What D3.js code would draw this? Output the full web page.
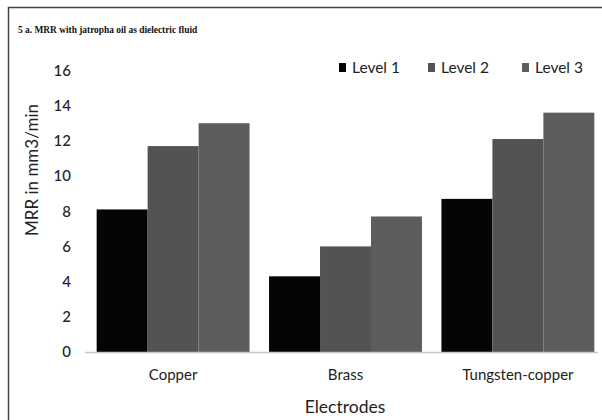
<!DOCTYPE html>
<html><head><meta charset="utf-8">
<script src="https://cdn.jsdelivr.net/npm/d3@7"></script>
<style>body{margin:0;background:#fff}svg{display:block}</style>
</head><body>
<script>
const categories = ["Copper", "Brass", "Tungsten-copper"];
const seriesNames = ["Level 1", "Level 2", "Level 3"];
const level1 = [8.1, 4.3, 8.7];
const level2 = [11.7, 6.0, 12.1];
const level3 = [13.0, 7.7, 13.6];
const yTicks = [0, 2, 4, 6, 8, 10, 12, 14, 16];
const colors = ["#050505", "#535353", "#5d5d5d"];

const W = 602, H = 420;
const svg = d3.select("body").append("svg").attr("width", W).attr("height", H);
const font = "Lato, 'Open Sans', sans-serif";

// frame
svg.append("path").attr("d", "M8.5,420 V7.5 H602").attr("fill", "none").attr("stroke", "#444").attr("stroke-width", 1.5);

svg.append("text").attr("x", 18).attr("y", 33).attr("font-family", "'Liberation Serif', serif")
  .attr("font-weight", "bold").attr("font-size", 9.4).attr("fill", "#111")
  .text("5 a. MRR with jatropha oil as dielectric fluid");

const y = d3.scaleLinear().domain([0, 16]).range([352, 70.4]);
const x0 = d3.scaleBand().domain(categories).range([87, 604]).paddingInner(0.113).paddingOuter(0.056);
const x1 = d3.scaleBand().domain(seriesNames).range([0, x0.bandwidth()]);

const data = categories.map((c, i) => ({cat: c, vals: [level1[i], level2[i], level3[i]]}));

const g = svg.append("g");
data.forEach(d => {
  d.vals.forEach((v, j) => {
    g.append("rect").attr("x", x0(d.cat) + x1(seriesNames[j])).attr("y", y(v))
      .attr("width", x1.bandwidth()).attr("height", y(0) - y(v)).attr("fill", colors[j]);
  });
});

// baseline
svg.append("line").attr("x1", 85).attr("x2", 598).attr("y1", y(0) + 0.5).attr("y2", y(0) + 0.5)
  .attr("stroke", "#c8c8c8").attr("stroke-width", 1.5);

// y axis
const yAxis = svg.append("g").attr("transform", "translate(71,0)")
  .call(d3.axisLeft(y).tickValues(yTicks).tickSize(0).tickPadding(0));
yAxis.select(".domain").remove();
yAxis.selectAll("text").attr("font-family", font).attr("font-size", 15).attr("font-weight", 500).attr("fill", "#222");

// x axis
const xAxis = svg.append("g").attr("transform", `translate(0,${y(0)})`)
  .call(d3.axisBottom(x0).tickSize(0).tickPadding(17));
xAxis.select(".domain").remove();
xAxis.selectAll("text").attr("font-family", font).attr("font-size", 15).attr("fill", "#222");

svg.append("text").attr("x", 345).attr("y", 413).attr("text-anchor", "middle")
  .attr("font-family", font).attr("font-size", 17.5).attr("fill", "#222").text("Electrodes");

svg.append("text").attr("transform", "translate(38,170) rotate(-90)").attr("text-anchor", "middle")
  .attr("font-family", font).attr("font-size", 17).attr("fill", "#222").text("MRR in mm3/min");

// legend
const legX = [339, 428, 522];
seriesNames.forEach((s, j) => {
  svg.append("rect").attr("x", legX[j]).attr("y", 63).attr("width", 7).attr("height", 9).attr("fill", colors[j]);
  svg.append("text").attr("x", legX[j] + 13).attr("y", 73).attr("font-family", font)
    .attr("font-size", 15.5).attr("fill", "#222").text(s);
});
</script>
</body></html>
